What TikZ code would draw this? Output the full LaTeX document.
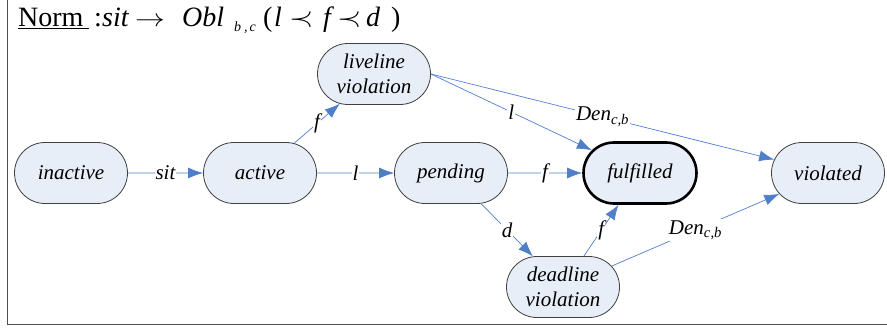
\documentclass[tikz,border=0pt]{standalone}
\usepackage{fontspec}
\setmainfont{Liberation Serif}
\usetikzlibrary{shapes.misc,arrows.meta}
\definecolor{nodefill}{HTML}{E8EEF8}
\definecolor{edgeblue}{HTML}{4F7FC8}
\definecolor{nodeline}{HTML}{404040}
\definecolor{framecol}{HTML}{505050}
\newcommand{\tp}[2]{\makebox[#1pt][l]{#2}}
\begin{document}
\begin{tikzpicture}[x=1pt,y=-1pt,
  state/.style={rounded rectangle, draw=nodeline, line width=0.8pt, fill=nodefill,
    minimum width=73pt, minimum height=61pt, inner xsep=-20pt, inner ysep=2pt,
    align=center, font=\fontsize{21}{25}\selectfont\itshape},
  goal/.style={state, draw=black, line width=2.6pt},
  tr/.style={draw=edgeblue, line width=0.7pt, -{Latex[length=15pt,width=11pt]}},
  lbl/.style={fill=white, inner sep=1pt, font=\fontsize{21}{24}\selectfont\itshape},
  den/.style={lbl}]
\useasboundingbox (0,0) rectangle (887,329);
\draw[framecol, line width=1.6pt] (7.5,0) -- (7.5,324.5) -- (887,324.5);

\node[anchor=base west, inner sep=0pt, font=\fontsize{28}{30}\selectfont] (title) at (18,27)
  {\tp{76}{\underline{Norm\hspace{5pt}}}\tp{8}{:}\tp{33}{\itshape sit}\tp{47}{\scalebox{1.2}[1]{$\rightarrow$}}\tp{52}{\itshape Obl}\tp{29}{\raisebox{-5pt}{\fontsize{14}{14}\selectfont\itshape b\hspace{3pt},\hspace{2pt}c}}\tp{11}{(}\tp{15}{\itshape l}\tp{34}{\scalebox{1.25}[1.1]{$\prec$}}\tp{14}{\itshape f}\tp{29}{\scalebox{1.25}[1.1]{$\prec$}}\tp{25}{\itshape d})};

\node[state] (ina) at (71,173) {inactive};
\node[state] (act) at (260,173) {active};
\node[state] (pen) at (451,173) {pending};
\node[goal]  (ful) at (640,173) {fulfilled};
\node[state] (vio) at (828,173) {violated};
\node[state] (liv) at (374,74) {liveline\\violation};
\node[state] (dea) at (563,287) {deadline\\violation};

\draw[tr] (ina) -- node[lbl] (l1) {sit} (act);
\draw[tr] (act) -- node[lbl] (l2) {l} (pen);
\draw[tr] (pen) -- node[lbl] (l3) {f} (ful);
\draw[tr] (act) -- node[lbl] (l4) {f} (liv);
\draw[tr] (liv.east) -- node[lbl] (l5) {l} (ful);
\draw[tr] (liv.east) -- node[den] (l6) {Den\textsubscript{c,b}} (vio);
\draw[tr] (pen) -- node[lbl] (l7) {d} (dea);
\draw[tr] (dea) -- node[lbl] (l8) {f} (ful);
\draw[tr] (dea) -- node[den] (l9) {Den\textsubscript{c,b}} (vio);
\end{tikzpicture}
\end{document}
